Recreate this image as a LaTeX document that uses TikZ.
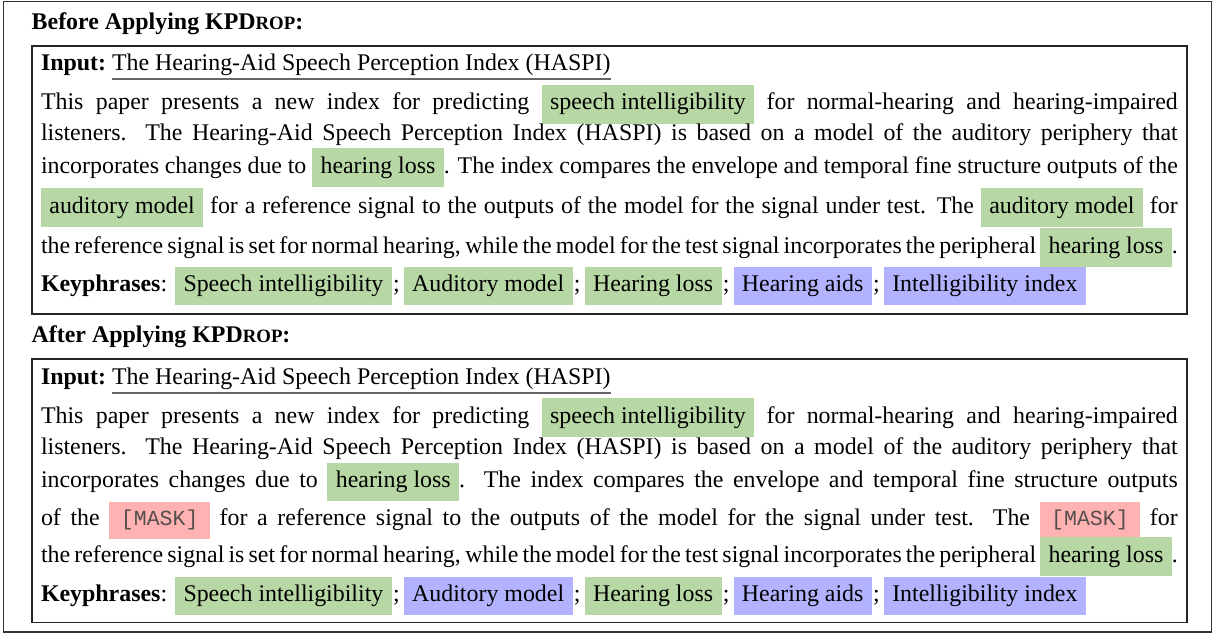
\documentclass[tikz,border=0pt]{standalone}
\usepackage{fontspec}
\setmainfont{Liberation Serif}
\newfontfamily\maskfont[Scale=0.9]{Liberation Mono}
\definecolor{kpgreen}{RGB}{183,215,165}
\definecolor{kpblue}{RGB}{178,178,255}
\definecolor{kppink}{RGB}{255,178,178}
\definecolor{maskgray}{RGB}{85,78,78}
\newcommand\hlg[1]{{\setlength\fboxsep{4.2pt}\colorbox{kpgreen}{\vphantom{hg}#1}}}
\newcommand\hlb[1]{{\setlength\fboxsep{4.2pt}\colorbox{kpblue}{\vphantom{hg}#1}}}
\newcommand\maskbox{{\setlength\fboxsep{4.2pt}\colorbox{kppink}{\hspace{1.6pt}\textcolor{maskgray}{\maskfont{}[MASK]}\hspace{1.6pt}}}}
\newcommand\jl[1]{\makebox[568.4pt][s]{#1}}
\newcommand\kpdrop{KPD{\fontsize{9.4}{11}\selectfont ROP}}
\newcommand\bodysize{\fontsize{11.95}{14}\selectfont}
\newcommand\sep{\kern0.7pt;\hspace{2pt}}
\begin{document}
\begin{tikzpicture}[x=0.5pt,y=-0.5pt,
  tline/.style={anchor=base west, inner sep=0pt, outer sep=0pt, font=\bodysize},
  ttl/.style={anchor=base west, inner sep=0pt, outer sep=0pt, font=\bodysize\bfseries},
  frame/.style={draw=black!85, line width=0.75pt},
  outerframe/.style={draw=black!80, line width=0.75pt},
  ulline/.style={draw=black!60, line width=0.9pt}]
\path[use as bounding box] (0,0) rectangle (1214,635);
\draw[outerframe] (3.5,1.5) rectangle (1211.5,632);

% ---------- Before ----------
\node[ttl] (tb) at (31.7,30) {Before Applying \kpdrop:};
\draw[frame] (32,46) rectangle (1187,314);
\node[tline] (inb) at (41,70.7) {\textbf{Input:}};
\node[tline] (hb) at ([xshift=3pt]inb.base east) {The Hearing-Aid Speech Perception Index (HASPI)};
\draw[ulline] ([yshift=-4.3pt]hb.base west) -- ([yshift=-4.3pt]hb.base east);
\node[tline] (b1) at (41,110) {\jl{This paper presents a new index for predicting \hlg{speech intelligibility} for normal-hearing and hearing-impaired}};
\node[tline] (b2) at (41,140.7) {\jl{listeners. The Hearing-Aid Speech Perception Index (HASPI) is based on a model of the auditory periphery that}};
\node[tline] (b3) at (41,173.3) {\jl{incorporates changes due to \hlg{hearing loss}. The index compares the envelope and temporal fine structure outputs of the}};
\node[tline] (b4) at (41,213.3) {\jl{\hlg{auditory model} for a reference signal to the outputs of the model for the signal under test. The \hlg{auditory model} for}};
\node[tline] (b5) at (41,253.3) {\jl{the reference signal is set for normal hearing, while the model for the test signal incorporates the peripheral \hlg{hearing loss}.}};
\node[tline] (bk) at (41,291.7) {\textbf{Keyphrases}: \hlg{Speech intelligibility}\sep\hlg{Auditory model}\sep\hlg{Hearing loss}\sep\hlb{Hearing aids}\sep\hlb{Intelligibility index}};

% ---------- After ----------
\node[ttl] (ta) at (31.7,342.7) {After Applying \kpdrop:};
\draw[frame] (32,359) rectangle (1187,622.3);
\node[tline] (ina) at (41,384.3) {\textbf{Input:}};
\node[tline] (ha) at ([xshift=3pt]ina.base east) {The Hearing-Aid Speech Perception Index (HASPI)};
\draw[ulline] ([yshift=-4.3pt]ha.base west) -- ([yshift=-4.3pt]ha.base east);
\node[tline] (a1) at (41,423.3) {\jl{This paper presents a new index for predicting \hlg{speech intelligibility} for normal-hearing and hearing-impaired}};
\node[tline] (a2) at (41,454.3) {\jl{listeners. The Hearing-Aid Speech Perception Index (HASPI) is based on a model of the auditory periphery that}};
\node[tline] (a3) at (41,487.7) {\jl{incorporates changes due to \hlg{hearing loss}. The index compares the envelope and temporal fine structure outputs}};
\node[tline] (a4) at (41,525.7) {\jl{of the \maskbox{} for a reference signal to the outputs of the model for the signal under test. The \maskbox{} for}};
\node[tline] (a5) at (41,562.3) {\jl{the reference signal is set for normal hearing, while the model for the test signal incorporates the peripheral \hlg{hearing loss}.}};
\node[tline] (ak) at (41,601.7) {\textbf{Keyphrases}: \hlg{Speech intelligibility}\sep\hlb{Auditory model}\sep\hlg{Hearing loss}\sep\hlb{Hearing aids}\sep\hlb{Intelligibility index}};
\end{tikzpicture}
\end{document}
